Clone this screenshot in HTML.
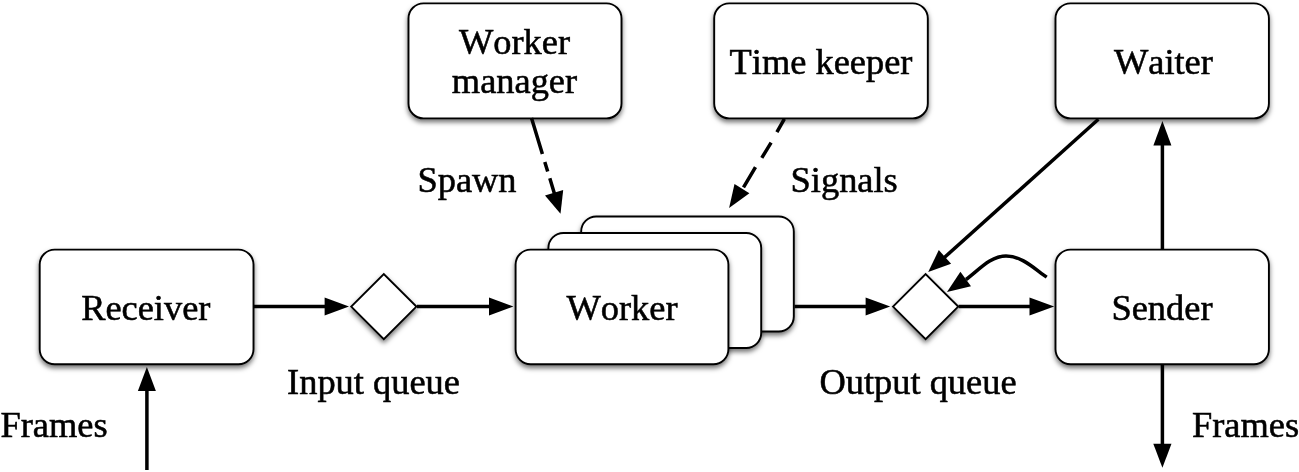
<!DOCTYPE html>
<html>
<head>
<meta charset="utf-8">
<title>Pipeline diagram</title>
<style>
html,body{margin:0;padding:0;background:#fff;}
body{width:1299px;height:472px;overflow:hidden;}
svg{display:block;filter:blur(0.35px);}
text{font-family:"Liberation Serif","Times New Roman",serif;font-size:36.4px;font-kerning:none;fill:#000;stroke:#000;stroke-width:0.55px;}
.box{fill:#fff;stroke:#000;stroke-width:1.9;}
.ln{stroke:#000;stroke-width:3.5;fill:none;}
.hd{fill:#000;stroke:none;}
</style>
</head>
<body>
<svg width="1299" height="472" viewBox="0 0 1299 472">
<defs>
<filter id="sh" x="-10%" y="-10%" width="120%" height="130%">
<feDropShadow dx="0" dy="3" stdDeviation="2.4" flood-color="#000" flood-opacity="0.55"/>
</filter>
</defs>
<rect width="1299" height="472" fill="#fff"/>

<!-- top boxes -->
<rect class="box" x="408.5" y="3.4" width="213" height="115" rx="15" filter="url(#sh)"/>
<rect class="box" x="714.2" y="3.4" width="213.6" height="115" rx="15" filter="url(#sh)"/>
<rect class="box" x="1055.5" y="3.4" width="213.4" height="115" rx="15" filter="url(#sh)"/>

<!-- middle boxes -->
<rect class="box" x="39.7" y="249.6" width="213.8" height="114.7" rx="15" filter="url(#sh)"/>
<rect class="box" x="581.2" y="216.5" width="212.6" height="115" rx="15" filter="url(#sh)"/>
<rect class="box" x="548.4" y="233" width="212.8" height="115" rx="15" filter="url(#sh)"/>
<rect class="box" x="515.6" y="249.6" width="212.8" height="114.7" rx="15" filter="url(#sh)"/>
<rect class="box" x="1055.5" y="249.6" width="213.4" height="114.7" rx="15" filter="url(#sh)"/>

<!-- diamonds -->
<polygon class="box" points="351.2,306.6 383.8,274 416.4,306.6 383.8,339.2" filter="url(#sh)"/>
<polygon class="box" points="893,306.6 925.6,274 958.2,306.6 925.6,339.2" filter="url(#sh)"/>

<!-- arrows horizontal -->
<line class="ln" x1="254" y1="306.6" x2="334" y2="306.6"/>
<polygon class="hd" points="349,306.6 324.6,297.6 324.6,315.6"/>
<line class="ln" x1="417" y1="306.6" x2="499" y2="306.6"/>
<polygon class="hd" points="513.4,306.6 489,297.6 489,315.6"/>
<line class="ln" x1="794.5" y1="306.6" x2="875" y2="306.6"/>
<polygon class="hd" points="890.2,306.6 865.6,297.6 865.6,315.6"/>
<line class="ln" x1="958.6" y1="306.6" x2="1039" y2="306.6"/>
<polygon class="hd" points="1054.2,306.6 1029.5,297.6 1029.5,315.6"/>

<!-- vertical arrows -->
<line class="ln" x1="146.9" y1="470" x2="146.9" y2="385"/>
<polygon class="hd" points="146.9,367 137.9,391 155.9,391"/>
<line class="ln" x1="1162.4" y1="250" x2="1162.4" y2="140"/>
<polygon class="hd" points="1162.4,121 1153.4,145.5 1171.4,145.5"/>
<line class="ln" x1="1162.4" y1="364" x2="1162.4" y2="450"/>
<polygon class="hd" points="1162.4,467.8 1153.3,443.8 1171.5,443.8"/>

<!-- diagonal waiter->diamond -->
<line class="ln" x1="1098.4" y1="119.3" x2="943.5" y2="258.3"/>
<polygon class="hd" points="928.2,272 938.8,250.1 951.1,263.8"/>

<!-- curved sender->diamond -->
<path class="ln" d="M1046.7,277.1 C1035.1,269.3 1022,255.9 1006,255.9 C990,255.9 977.5,271.5 966,279.5"/>
<polygon class="hd" points="947,292.1 960.4,271.8 971,286.2"/>

<!-- dashed -->
<path class="ln" d="M531.5,118 L542.4,153.9 M544.8,162 L547.7,171.6 M549.8,178.3 L554.7,194.6"/>
<polygon class="hd" points="560.5,213.7 545,195.4 563.2,189.9"/>
<path class="ln" d="M784.4,118.9 L776.9,132.1 M771.1,142.6 L761.8,157.8 M755.5,167.1 L743.5,187.3"/>
<polygon class="hd" points="729.1,207.9 734.5,184.1 749.4,193.2"/>

<!-- labels -->
<text x="514.5" y="54" text-anchor="middle">Worker</text>
<text x="514.5" y="93" text-anchor="middle">manager</text>
<text x="821" y="73.6" text-anchor="middle">Time keeper</text>
<text x="1163.4" y="73.7" text-anchor="middle">Waiter</text>
<text x="145.8" y="320" text-anchor="middle">Receiver</text>
<text x="622" y="320" text-anchor="middle">Worker</text>
<text x="1162" y="319.7" text-anchor="middle">Sender</text>
<text x="467" y="192" text-anchor="middle">Spawn</text>
<text x="844.2" y="192" text-anchor="middle">Signals</text>
<text x="373.5" y="393.5" text-anchor="middle">Input queue</text>
<text x="918" y="393.5" text-anchor="middle">Output queue</text>
<text x="0.5" y="436.6">Frames</text>
<text x="1192" y="436.6">Frames</text>
</svg>
</body>
</html>
